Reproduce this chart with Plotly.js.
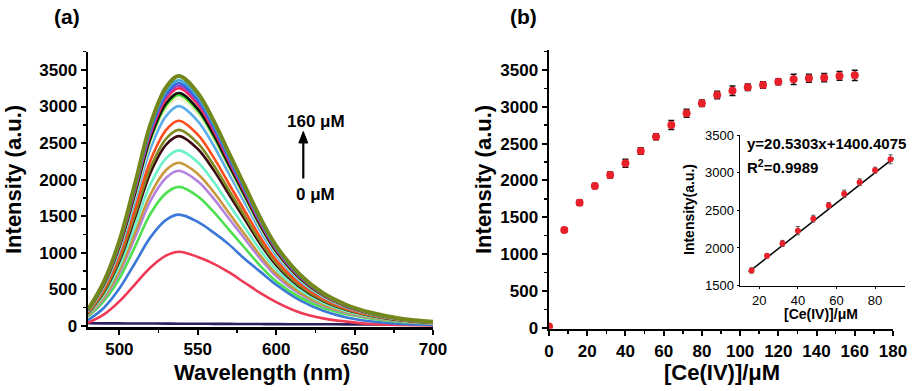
<!DOCTYPE html>
<html>
<head>
<meta charset="utf-8">
<script src="https://cdn.plot.ly/plotly-3.0.1.min.js"></script>
<style>
  html, body { margin: 0; padding: 0; background: #fff; }
  #chart { width: 912px; height: 391px; }
</style>
</head>
<body>
<div id="chart"></div>
<script>
// *********************************************************************************************
// DATA  (a) emission spectra

const WAVELENGTH = [480, 490, 500, 510, 520, 530, 538, 550, 560, 570, 580, 590, 600, 615, 630, 645, 660, 680, 700];

const SPEC_0   = [35, 33, 32, 30, 30, 29, 28, 27, 26, 25, 24, 23, 22, 21, 20, 19, 18, 17, 16];
const SPEC_1   = [41, 152, 334, 567, 800, 962, 1013, 942, 851, 729, 588, 446, 324, 182, 101, 56, 25, 10, 5];
const SPEC_2   = [76, 243, 509, 859, 1216, 1452, 1520, 1421, 1277, 1110, 912, 737, 562, 350, 205, 114, 61, 23, 12];
const SPEC_3   = [124, 333, 646, 1083, 1539, 1818, 1900, 1771, 1562, 1311, 1064, 817, 608, 390, 247, 158, 101, 53, 30];
const SPEC_4   = [138, 371, 721, 1208, 1717, 2029, 2120, 1976, 1743, 1463, 1187, 912, 678, 435, 276, 176, 112, 59, 34];
const SPEC_5   = [145, 390, 758, 1271, 1806, 2134, 2230, 2078, 1833, 1539, 1249, 959, 714, 457, 290, 185, 118, 62, 36];
const SPEC_6   = [156, 420, 816, 1368, 1944, 2297, 2400, 2237, 1973, 1656, 1344, 1032, 768, 492, 312, 199, 127, 67, 38];
const SPEC_7   = [169, 454, 882, 1479, 2102, 2483, 2595, 2419, 2133, 1791, 1453, 1116, 830, 532, 337, 215, 138, 73, 42];
const SPEC_8   = [174, 469, 911, 1528, 2171, 2565, 2680, 2498, 2203, 1849, 1501, 1152, 858, 549, 348, 222, 142, 75, 43];
const SPEC_9   = [182, 491, 954, 1599, 2273, 2685, 2806, 2615, 2307, 1936, 1571, 1207, 898, 575, 365, 233, 149, 79, 45];
const SPEC_10  = [195, 526, 1022, 1713, 2434, 2876, 3005, 2801, 2470, 2073, 1683, 1292, 962, 616, 391, 249, 159, 84, 48];
const SPEC_11  = [202, 544, 1057, 1773, 2519, 2976, 3110, 2899, 2556, 2146, 1742, 1337, 995, 638, 404, 258, 165, 87, 50];
const SPEC_12  = [205, 553, 1074, 1800, 2558, 3022, 3158, 2943, 2596, 2179, 1768, 1358, 1011, 647, 411, 262, 167, 88, 51];
const SPEC_13  = [207, 557, 1083, 1815, 2580, 3048, 3185, 2968, 2618, 2198, 1784, 1370, 1019, 653, 414, 264, 169, 89, 51];
const SPEC_14  = [211, 569, 1105, 1853, 2633, 3110, 3250, 3029, 2672, 2243, 1820, 1398, 1040, 666, 423, 270, 172, 91, 52];
const SPEC_15  = [214, 575, 1117, 1872, 2661, 3144, 3285, 3062, 2700, 2267, 1840, 1413, 1051, 673, 427, 273, 174, 92, 53];
const SPEC_16  = [216, 581, 1128, 1891, 2688, 3175, 3318, 3092, 2727, 2289, 1858, 1427, 1062, 680, 431, 275, 176, 93, 53];
const SPEC_17  = [218, 588, 1142, 1915, 2722, 3216, 3360, 3132, 2762, 2318, 1882, 1445, 1075, 689, 437, 279, 178, 94, 54];
const SPEC_18  = [222, 598, 1162, 1948, 2769, 3271, 3418, 3186, 2810, 2358, 1914, 1470, 1094, 701, 444, 284, 181, 96, 55];

const SPECTRA = [SPEC_0, SPEC_1, SPEC_2, SPEC_3, SPEC_4, SPEC_5, SPEC_6, SPEC_7, SPEC_8, SPEC_9,
                 SPEC_10, SPEC_11, SPEC_12, SPEC_13, SPEC_14, SPEC_15, SPEC_16, SPEC_17, SPEC_18];

// *********************************************************************************************
// DATA  (b) titration curve + inset linear range

const CONC      = [0, 8, 16, 24, 32, 40, 48, 56, 64, 72, 80, 88, 96, 104, 112, 120, 128, 136, 144, 152, 160];
const INTENSITY = [15, 1327, 1698, 1924, 2074, 2233, 2400, 2594, 2753, 2912, 3048, 3160, 3219, 3265, 3296, 3341, 3373, 3387, 3396, 3419, 3428];
const INT_ERR   = [0, 30, 35, 35, 40, 55, 45, 40, 60, 55, 45, 50, 65, 45, 45, 40, 70, 55, 55, 60, 70];

const INSET_CONC = [16, 24, 32, 40, 48, 56, 64, 72, 80, 88];
const INSET_INT  = [1700, 1895, 2060, 2230, 2390, 2565, 2720, 2875, 3035, 3180];
const INSET_ERR  = [35, 30, 40, 55, 45, 40, 50, 45, 40, 60];

const FIT_X = [14.5, 89.6];
const FIT_Y = [1680, 3195];

const X_TICKS_A = [500, 550, 600, 650, 700];
const Y_TICKS   = [0, 500, 1000, 1500, 2000, 2500, 3000, 3500];
const X_TICKS_B = [0, 20, 40, 60, 80, 100, 120, 140, 160, 180];
const X_TICKS_INSET = [20, 40, 60, 80];
const Y_TICKS_INSET = [1500, 2000, 2500, 3000, 3500];


// *********************************************************************************************
// STYLE

const W = 912, H = 391;
const FONT = 'Liberation Sans, Arial, sans-serif';

const SPEC_COLORS = [
    '#2e1f5e', '#ee3a55', '#3b78d8', '#4fe04f', '#b483de', '#c9973c', '#6cf2cb',
    '#3a0b12', '#7e8a22', '#ff4c1c', '#5cadea', '#f1f0c6', '#3fdc25', '#111111',
    '#ff2347', '#a244c4', '#3567dc', '#3fa8d8', '#73881c'
];

// helpers: pixel -> paper coords
const px = (x) => x / W;
const py = (y) => 1 - y / H;


// *********************************************************************************************
// TRACES

let data = [];

SPECTRA.forEach((s, i) => {
    data.push({
        type: 'scatter', mode: 'lines',
        x: WAVELENGTH, y: s,
        xaxis: 'x', yaxis: 'y',
        line: { color: SPEC_COLORS[i], width: i === SPECTRA.length - 1 ? 4 : 2.6, shape: 'spline', smoothing: 1 },
        hoverinfo: 'skip'
    });
});

data.push({
    type: 'scatter', mode: 'markers',
    x: CONC, y: INTENSITY,
    xaxis: 'x2', yaxis: 'y2',
    marker: { color: '#e8202a', size: 8 },
    error_y: { type: 'data', array: INT_ERR, visible: true, color: '#111', thickness: 1.5, width: 3 }
});

data.push({
    type: 'scatter', mode: 'lines',
    x: FIT_X, y: FIT_Y,
    xaxis: 'x3', yaxis: 'y3',
    line: { color: '#000', width: 1.5 }
});

data.push({
    type: 'scatter', mode: 'markers',
    x: INSET_CONC, y: INSET_INT,
    xaxis: 'x3', yaxis: 'y3',
    marker: { color: '#e8202a', size: 6 },
    error_y: { type: 'data', array: INSET_ERR, visible: true, color: '#555', thickness: 1, width: 2 }
});


// *********************************************************************************************
// LAYOUT

const tickFont = { family: FONT, size: 17, color: '#000', weight: 'bold' };
const insetFont = { family: FONT, size: 13, color: '#000' };

const mainAxis = (extra) => Object.assign({
    showline: true, linecolor: '#000', linewidth: 2.5,
    ticks: 'outside', ticklen: 5, tickwidth: 2, tickcolor: '#000',
    showgrid: false, zeroline: false,
    tickfont: tickFont, fixedrange: true
}, extra);

const insetAxis = (extra) => Object.assign({
    showline: true, linecolor: '#000', linewidth: 1.5,
    ticks: 'outside', ticklen: 2, tickwidth: 1, tickcolor: '#000',
    showgrid: false, zeroline: false,
    tickfont: insetFont, fixedrange: true
}, extra);

const titleFont = { family: FONT, size: 22, color: '#000', weight: 'bold' };
const ann = (x, y, text, font, extra) => Object.assign({
    xref: 'paper', yref: 'paper', x: px(x), y: py(y),
    text: text, showarrow: false, font: font,
    xanchor: 'center', yanchor: 'middle'
}, extra || {});

let layout = {
    width: W, height: H,
    margin: { t: 0, r: 0, b: 0, l: 0 },
    paper_bgcolor: '#fff',
    plot_bgcolor: 'rgba(0,0,0,0)',
    showlegend: false,

    xaxis: mainAxis({
        domain: [px(88), px(433)], range: [480, 700], anchor: 'y',
        tickvals: X_TICKS_A,
        minor: { ticks: 'outside', ticklen: 3, tickwidth: 1.5, tickcolor: '#000', dtick: 25, tick0: 500 }
    }),
    yaxis: mainAxis({
        domain: [py(327.2), py(51.7)], range: [-20, 3750], anchor: 'x',
        tickvals: Y_TICKS,
        minor: { ticks: 'outside', ticklen: 3, tickwidth: 1.5, tickcolor: '#000', dtick: 250, tick0: 0 }
    }),

    xaxis2: mainAxis({
        domain: [px(549), px(893)], range: [0, 180], anchor: 'y2',
        tickvals: X_TICKS_B,
        minor: { ticks: 'outside', ticklen: 3, tickwidth: 1.5, tickcolor: '#000', dtick: 10, tick0: 0 }
    }),
    yaxis2: mainAxis({
        domain: [py(328.8), py(50.1)], range: [-15, 3770], anchor: 'x2',
        tickvals: Y_TICKS,
        minor: { ticks: 'outside', ticklen: 3, tickwidth: 1.5, tickcolor: '#000', dtick: 250, tick0: 0 }
    }),

    xaxis3: insetAxis({
        domain: [px(740), px(905)], range: [10, 95.5], anchor: 'y3',
        tickvals: X_TICKS_INSET
    }),
    yaxis3: insetAxis({
        domain: [py(285.5), py(134.5)], range: [1500, 3510], anchor: 'x3',
        tickvals: Y_TICKS_INSET
    }),

    // arrow between "0 μM" and "160 μM"
    shapes: [
        { type: 'line', xref: 'paper', yref: 'paper',
          x0: px(303.3), x1: px(303.3), y0: py(178.5), y1: py(140),
          line: { color: '#000', width: 2.2 } },
        { type: 'path', xref: 'paper', yref: 'paper',
          path: 'M ' + px(298.8) + ' ' + py(143) + ' L ' + px(303.3) + ' ' + py(131.5) +
                ' L ' + px(307.8) + ' ' + py(143) + ' Z',
          fillcolor: '#000', line: { color: '#000', width: 1 } }
    ],

    annotations: [
        ann(67, 16, '(a)', { family: FONT, size: 21, color: '#000', weight: 'bold' }),
        ann(523, 16, '(b)', { family: FONT, size: 21, color: '#000', weight: 'bold' }),

        ann(14, 180, 'Intensity (a.u.)', titleFont, { textangle: -90 }),
        ann(484, 180, 'Intensity (a.u.)', titleFont, { textangle: -90 }),
        ann(262, 372, 'Wavelength (nm)', titleFont),
        ann(722, 372, '[Ce(IV)]/μM', titleFont),

        ann(316, 121, '160 μM', { family: FONT, size: 17, color: '#000', weight: 'bold' }),
        ann(315, 194, '0 μM', { family: FONT, size: 17, color: '#000', weight: 'bold' }),

        ann(689, 210, 'Intensity(a.u.)', { family: FONT, size: 14, color: '#000', weight: 'bold' }, { textangle: -90 }),
        ann(821, 314, '[Ce(IV)]/μM', { family: FONT, size: 14, color: '#000', weight: 'bold' }),
        ann(745, 143, 'y=20.5303x+1400.4075', { family: FONT, size: 15, color: '#000', weight: 'bold' }, { xanchor: 'left' }),
        ann(745, 166, 'R<sup>2</sup>=0.9989', { family: FONT, size: 15, color: '#000', weight: 'bold' }, { xanchor: 'left' })
    ]
};


// *********************************************************************************************
// CONFIG

const config = {
    displaylogo: false,
    displayModeBar: false,
    staticPlot: true
};

Plotly.newPlot('chart', data, layout, config);
</script>
</body>
</html>
